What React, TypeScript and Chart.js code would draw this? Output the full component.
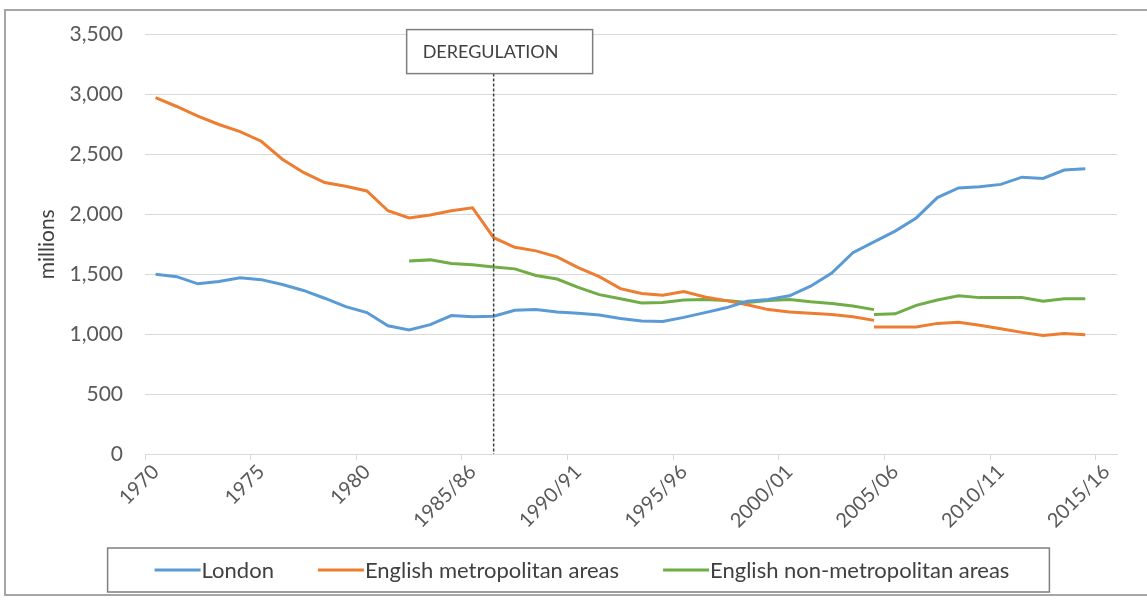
import React, { useEffect, useRef } from 'react';
import { Chart, registerables } from 'chart.js';

Chart.register(...registerables);

const categories = [
  '1970', '1971', '1972', '1973', '1974', '1975', '1976', '1977', '1978', '1979',
  '1980', '1981', '1982', '1983', '1984', '1985/86', '1986/87', '1987/88', '1988/89', '1989/90',
  '1990/91', '1991/92', '1992/93', '1993/94', '1994/95', '1995/96', '1996/97', '1997/98', '1998/99', '1999/00',
  '2000/01', '2001/02', '2002/03', '2003/04', '2004/05', '2005/06', '2006/07', '2007/08', '2008/09', '2009/10',
  '2010/11', '2011/12', '2012/13', '2013/14', '2014/15', '2015/16',
];

const london = [
  1500, 1480, 1420, 1440, 1470, 1455, 1415, 1365, 1300, 1230,
  1180, 1070, 1035, 1080, 1155, 1145, 1150, 1200, 1205, 1185,
  1175, 1160, 1130, 1110, 1105, 1140, 1180, 1220, 1275, 1290,
  1320, 1400, 1510, 1680, 1770, 1860, 1970, 2140, 2220, 2230,
  2250, 2310, 2300, 2370, 2380, null,
];

const metroOld = [
  2975, 2900, 2820, 2750, 2690, 2610, 2460, 2350, 2265, 2235,
  2195, 2030, 1970, 1995, 2030, 2055, 1805, 1725, 1695, 1645,
  1555, 1480, 1380, 1340, 1325, 1355, 1310, 1280, 1245, 1205,
  1185, 1175, 1165, 1145, 1115, null, null, null, null, null,
  null, null, null, null, null, null,
];

const metroNew = [
  null, null, null, null, null, null, null, null, null, null,
  null, null, null, null, null, null, null, null, null, null,
  null, null, null, null, null, null, null, null, null, null,
  null, null, null, null, 1060, 1060, 1060, 1090, 1100, 1075,
  1045, 1015, 990, 1005, 995, null,
];

const nonMetroOld = [
  null, null, null, null, null, null, null, null, null, null,
  null, null, 1610, 1620, 1590, 1580, 1560, 1545, 1490, 1460,
  1390, 1330, 1295, 1260, 1265, 1285, 1290, 1280, 1265, 1280,
  1290, 1270, 1255, 1235, 1205, null, null, null, null, null,
  null, null, null, null, null, null,
];

const nonMetroNew = [
  null, null, null, null, null, null, null, null, null, null,
  null, null, null, null, null, null, null, null, null, null,
  null, null, null, null, null, null, null, null, null, null,
  null, null, null, null, 1165, 1170, 1240, 1285, 1320, 1305,
  1305, 1305, 1275, 1295, 1295, null,
];

const seriesNames = ['London', 'English metropolitan areas', 'English non-metropolitan areas'];
const seriesColors = ['#5B9BD5', '#ED7D31', '#70AD47'];
const annotationCategory = '1986/87';
const annotationText = 'DEREGULATION';
const yTicks = { min: 0, max: 3500, step: 500 };
const yTitle = 'millions';

const FONT = 'Lato, "Open Sans", sans-serif';

const boxLegendPlugin = {
  id: 'boxLegend',
  afterDraw(chart: any, _args: any, opts: any) {
    const ctx = chart.ctx;
    ctx.save();
    ctx.font = `${opts.fontSize}px ${FONT}`;
    const widths = seriesNames.map((n) => ctx.measureText(n).width);
    const lineW = opts.lineWidth;
    const gapText = opts.gapText;
    const gapItem = opts.gapItem;
    let total = 0;
    widths.forEach((w, i) => {
      total += lineW + gapText + w + (i > 0 ? gapItem : 0);
    });
    let x = opts.centerX - total / 2;
    const boxLeft = x - opts.padLeft;
    const boxRight = x + total + opts.padRight;
    ctx.strokeStyle = '#7f7f7f';
    ctx.lineWidth = 1.5;
    ctx.strokeRect(boxLeft, opts.top, boxRight - boxLeft, opts.bottom - opts.top);
    const cy = opts.centerY;
    ctx.textBaseline = 'middle';
    ctx.textAlign = 'left';
    seriesNames.forEach((n, i) => {
      ctx.strokeStyle = seriesColors[i];
      ctx.lineWidth = 3;
      ctx.beginPath();
      ctx.moveTo(x, cy);
      ctx.lineTo(x + lineW, cy);
      ctx.stroke();
      ctx.fillStyle = '#404040';
      ctx.fillText(n, x + lineW + gapText, cy + 1);
      x += lineW + gapText + widths[i] + gapItem;
    });
    ctx.restore();
  },
};

const deregPlugin = {
  id: 'dereg',
  afterDraw(chart: any) {
    const xs = chart.scales.x;
    const idx = categories.indexOf(annotationCategory);
    const px = xs.getPixelForValue(idx);
    const area = chart.chartArea;
    const ctx = chart.ctx;
    ctx.save();
    const boxTop = area.top - 5;
    const boxH = 44;
    const boxL = px - 87;
    const boxW = 186;
    ctx.strokeStyle = '#404040';
    ctx.lineWidth = 1.5;
    ctx.setLineDash([3, 2]);
    ctx.beginPath();
    ctx.moveTo(px, boxTop + boxH);
    ctx.lineTo(px, area.bottom);
    ctx.stroke();
    ctx.setLineDash([]);
    ctx.fillStyle = '#ffffff';
    ctx.fillRect(boxL, boxTop, boxW, boxH);
    ctx.strokeStyle = '#7f7f7f';
    ctx.lineWidth = 1.5;
    ctx.strokeRect(boxL, boxTop, boxW, boxH);
    ctx.fillStyle = '#404040';
    ctx.font = `18px ${FONT}`;
    ctx.textBaseline = 'middle';
    ctx.textAlign = 'left';
    ctx.fillText(annotationText, boxL + 16, boxTop + boxH / 2 + 1);
    ctx.restore();
  },
};

export default function App() {
  const canvasRef = useRef<HTMLCanvasElement | null>(null);

  useEffect(() => {
    document.body.style.margin = '0';
    const canvas = canvasRef.current;
    if (!canvas) return;
    const lineDs = (label: string, data: (number | null)[], color: string) => ({
      label,
      data,
      borderColor: color,
      backgroundColor: color,
      borderWidth: 3,
      pointRadius: 0,
      pointHoverRadius: 0,
      tension: 0,
      spanGaps: false,
      fill: false,
    });
    const chart = new Chart(canvas, {
      type: 'line',
      data: {
        labels: categories,
        datasets: [
          lineDs(seriesNames[0], london, seriesColors[0]),
          lineDs(seriesNames[1], metroOld, seriesColors[1]),
          lineDs(seriesNames[1] + ' (new basis)', metroNew, seriesColors[1]),
          lineDs(seriesNames[2], nonMetroOld, seriesColors[2]),
          lineDs(seriesNames[2] + ' (new basis)', nonMetroNew, seriesColors[2]),
        ],
      },
      options: {
        responsive: false,
        animation: false,
        layout: { padding: { left: 0, right: 30, top: 33, bottom: 68 } },
        plugins: {
          legend: { display: false },
          tooltip: { enabled: false },
          boxLegend: {
            fontSize: 22,
            lineWidth: 46,
            gapText: 1,
            gapItem: 44,
            centerX: 582,
            centerY: 570,
            top: 548,
            bottom: 592,
            padLeft: 47,
            padRight: 40,
          },
        } as any,
        scales: {
          x: {
            type: 'category',
            offset: true,
            afterFit: (s: any) => { s.height = 80; },
            grid: {
              offset: true,
              drawOnChartArea: false,
              drawTicks: true,
              tickLength: 6,
              color: (c: any) => (c.index % 5 === 0 ? '#d9d9d9' : 'rgba(0,0,0,0)'),
            },
            border: { display: true, color: '#d9d9d9', width: 1 },
            ticks: {
              autoSkip: false,
              maxRotation: 45,
              minRotation: 45,
              padding: 0,
              color: '#595959',
              font: { family: FONT, size: 20 },
              callback: (_v: any, i: number) => (i % 5 === 0 ? categories[i] : ''),
            },
          },
          y: {
            min: yTicks.min,
            max: yTicks.max,
            afterFit: (s: any) => { s.width = 145; },
            grid: { color: '#d9d9d9', drawTicks: false, lineWidth: 1 },
            border: { display: false },
            ticks: {
              stepSize: yTicks.step,
              padding: 22,
              color: '#595959',
              font: { family: FONT, size: 21 },
              callback: (v: any) => Number(v).toLocaleString('en-US'),
            },
            title: {
              display: true,
              text: yTitle,
              color: '#404040',
              font: { family: FONT, size: 21 },
              padding: { top: 35, bottom: 0 },
            },
          },
        },
      },
      plugins: [boxLegendPlugin, deregPlugin],
    });
    return () => chart.destroy();
  }, []);

  return (
    <div style={{ position: 'fixed', left: 0, top: 0, width: 1147, height: 602, overflow: 'hidden', background: '#ffffff' }}>
      <div style={{ position: 'absolute', left: 4, top: 9, width: 1160, height: 587, border: '2px solid #a6a6a6', boxSizing: 'border-box' }} />
      <canvas ref={canvasRef} width={1147} height={602} style={{ position: 'absolute', left: 0, top: 0, width: 1147, height: 602 }} />
    </div>
  );
}
